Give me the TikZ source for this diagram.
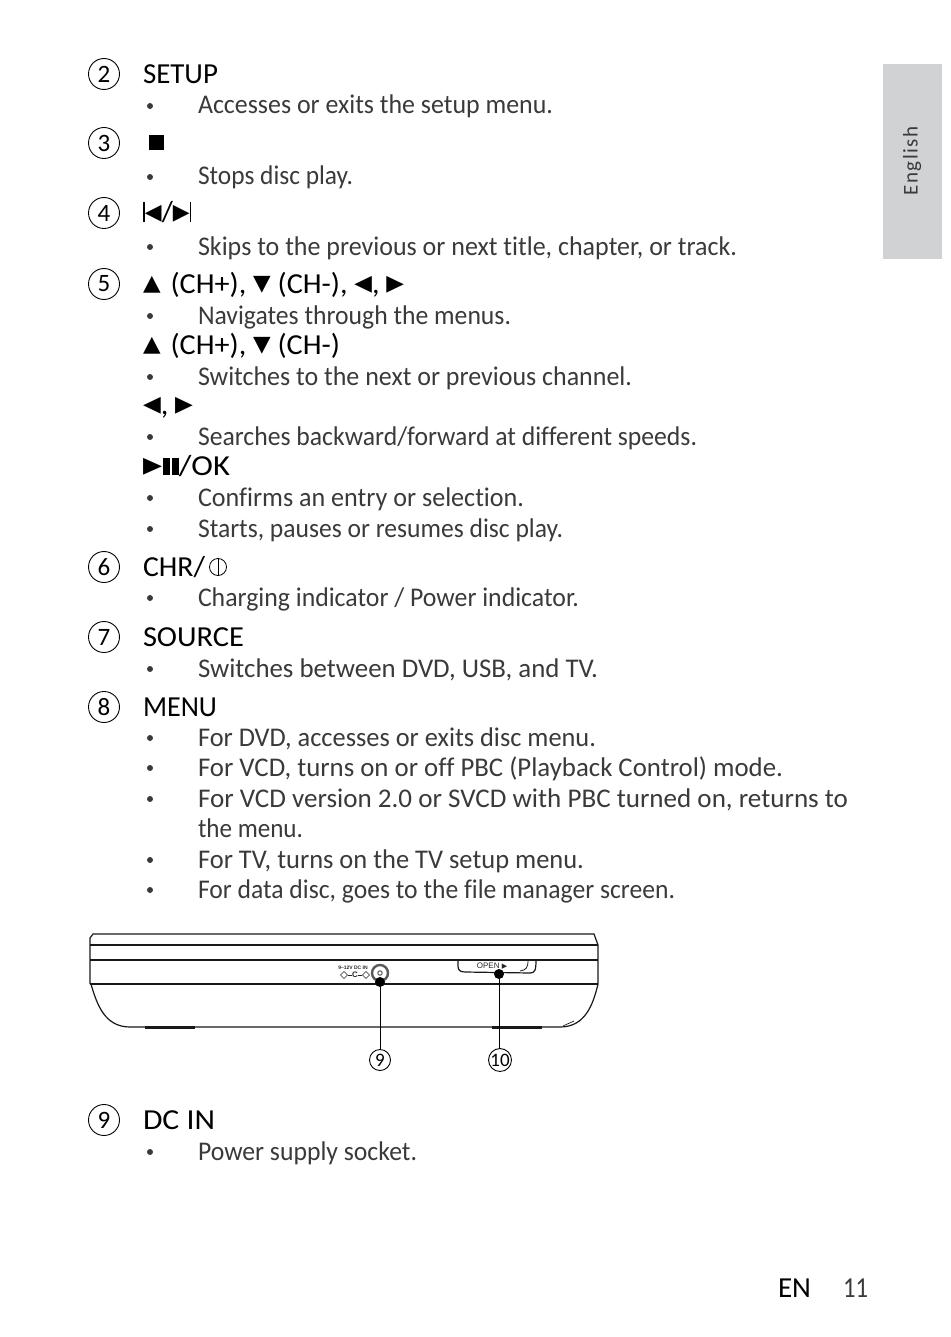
\documentclass[tikz,border=0pt]{standalone}
\usepackage{graphicx}
\usepackage{fontspec}
\setmainfont{Carlito}[Ligatures=NoCommon]
\newfontfamily\symfont{DejaVu Sans}
\newfontfamily\smallfont{Liberation Sans}
\usetikzlibrary{calc,shapes.geometric}
\definecolor{tabgray}{HTML}{D0D2D3}
\definecolor{bodygray}{HTML}{3A3A3A}
\newcommand{\sym}[2][22]{\raisebox{2.5pt}{\symfont\fontsize{#1}{#1}\selectfont #2}}
\newcommand{\fit}[2]{\resizebox{#1pt}{\height}{#2}}
\tikzset{
  base/.style={inner sep=0pt, outer sep=0pt, anchor=base west},
  head/.style={base, text=black, font=\fontsize{29}{29}\selectfont},
  body/.style={base, text=bodygray, font=\fontsize{27}{27}\selectfont},
  dot/.style={circle, fill=bodygray, inner sep=0pt, minimum size=6pt},
  num/.style={circle, draw=black, line width=0.9pt, inner sep=0pt, minimum size=31pt, font=\fontsize{25}{25}\selectfont},
  tag/.style={circle, draw=black, line width=0.9pt, inner sep=0pt, minimum size=21pt, font=\fontsize{19}{19}\selectfont},
  case/.style={line width=1.2pt, black!90},
  pin/.style={circle, fill=black, inner sep=0pt, minimum size=10pt},
}
\begin{document}
\begin{tikzpicture}[x=1pt, y=-1pt]
  \useasboundingbox (0,0) rectangle (950,1337);

  %%%%% TAB %%%%%
  \fill[tabgray] (883,64) rectangle (942,259);
  \node[inner sep=0pt, rotate=90, text=bodygray, font=\fontsize{21}{21}\selectfont] (lang) at (912,161) {E\hspace{1.5pt}n\hspace{1.5pt}g\hspace{1.5pt}l\hspace{1.5pt}i\hspace{1.5pt}s\hspace{1.5pt}h};

  %%%%% NUMBERS %%%%%
  \foreach \n/\yy in {2/74, 3/143, 4/213, 5/284, 6/567, 7/637, 8/707, 9/1120}
    \node[num] (num\n) at (104,\yy) {\n};

  %%%%% HEADINGS %%%%%
  \node[head] (setup) at (143,84) {\fit{75}{SETUP}};
  \node[fill=black, inner sep=0pt, minimum size=15pt] (stop) at (156.5,143) {};
  \node[head] (skip) at (143,222) {\fit{48}{\rule{2pt}{20pt}\sym{◀}/\sym{▶}\rule{1.4pt}{20pt}}};
  \node[head] (nav) at (143,293) {\fit{261}{\sym{▲}\hspace{3pt} (CH+), \sym{▼} (CH-), \sym{◀}, \sym{▶}}};
  \node[head] (chan) at (143,354) {\fit{197}{\sym{▲}\hspace{3pt} (CH+), \sym{▼} (CH-)}};
  \node[head] (srch) at (143,414) {\fit{50}{\sym{◀}, \sym{▶}}};
  \node[head] (play) at (143,475) {\fit{87}{\sym{▶}\hspace{1pt}\rule{6pt}{17pt}\hspace{2pt}\rule{6pt}{17pt}/OK}};
  \node[head] (chr) at (143,576) {\fit{62}{CHR/}};
  \node[circle, draw=black, line width=0.8pt, inner sep=0pt, minimum size=17pt] (pwr) at (218,567) {};
  \draw[line width=0.8pt] (pwr.north) -- (pwr.south);
  \node[head] (source) at (143,646) {\fit{101}{SOURCE}};
  \node[head] (menu) at (143,716) {\fit{74}{MENU}};
  \node[head] (dcin) at (143,1129) {\fit{72}{DC IN}};

  %%%%% BULLETS %%%%%
  \foreach \yy/\ww/\txt in {
    114/355/{Accesses or exits the setup menu.},
    185/155/{Stops disc play.},
    255/539/{Skips to the previous or next title, chapter, or track.},
    324/313/{Navigates through the menus.},
    385/434/{Switches to the next or previous channel.},
    445/499/{Searches backward/forward at different speeds.},
    506/326/{Confirms an entry or selection.},
    537/365/{Starts, pauses or resumes disc play.},
    606/381/{Charging indicator / Power indicator.},
    677/400/{Switches between DVD, USB, and TV.},
    746/398/{For DVD, accesses or exits disc menu.},
    776/585/{For VCD, turns on or off PBC (Playback Control) mode.},
    807/650/{For VCD version 2.0 or SVCD with PBC turned on, returns to},
    868/386/{For TV, turns on the TV setup menu.},
    898/477/{For data disc, goes to the file manager screen.},
    1160/219/{Power supply socket.}}{
    \node[dot] (bul\yy) at (150,\yy-8) {};
    \node[body] (txt\yy) at (198,\yy) {\fit{\ww}{\txt}};
  }
  \node[body] (txt837) at (198,837) {\fit{105}{the menu.}};

  %%%%% DEVICE %%%%%
  \draw[case] (90,984) -- (90,938) -- (93,934) -- (594,934) -- (598,945) -- (598,984);
  \draw[case] (90,945) -- (598,945);
  \draw[line width=2pt, black!90] (90,960) -- (598,960);
  \draw[case] (90,984) -- (598,984);
  \draw[case] (91,984) .. controls (97,1005) and (105,1027) .. (130,1027) -- (560,1027)
    .. controls (585,1027) and (593,1005) .. (598,984);
  \draw[line width=0.7pt, black!90] (563,1026) -- (574,1021);
  \fill[black!90] (145,1026) rectangle (195,1029);
  \fill[black!90] (492,1026) rectangle (542,1029);
  \draw[case] (458,960) -- (458,966) .. controls (458,970) and (460,972) .. (465,972)
    -- (530,973) .. controls (535,973) and (536,970) .. (536,960);
  \draw[line width=0.8pt, black!90] (528,960) .. controls (528,968) and (526,970) .. (520,971);
  \node[inner sep=0pt, font=\smallfont\fontsize{8}{8}\selectfont, text=black!85] (open) at (492,966) {OPEN {\symfont\fontsize{7}{7}\selectfont ▶}};
  \node[inner sep=0pt, font=\smallfont\bfseries\fontsize{5}{5}\selectfont, text=black!85] (volt) at (353,968) {9–12V DC IN};
  \node[diamond, draw=black!85, line width=0.6pt, inner sep=1.8pt] (dcl) at (344,975) {};
  \node[diamond, draw=black!85, line width=0.6pt, inner sep=1.8pt] (dcr) at (366,975) {};
  \node[inner sep=0pt, font=\smallfont\bfseries\fontsize{8}{8}\selectfont, text=black!85] (dcc) at (355,975) {C};
  \draw[line width=0.6pt, black!85] (dcl) -- (dcc) -- (dcr);
  \draw[line width=2.4pt, black!65] (380,973) circle (8);
  \draw[line width=1pt, black!65] (380,973) circle (2.2);

  \node[pin] (pin9) at (380,982) {};
  \node[pin] (pin10) at (499,974) {};
  \node[tag] (tag9) at (380,1060) {9};
  \node[tag] (tag10) at (500,1060) {10};
  \draw[line width=0.9pt] (pin9) -- (tag9);
  \draw[line width=0.9pt] (pin10) -- (pin10 |- tag10.north);

  %%%%% FOOTER %%%%%
  \node[head] (en) at (778,1297) {\fit{33}{EN}};
  \node[head, text=bodygray] (page) at (843,1297) {\fit{25}{11}};
\end{tikzpicture}
\end{document}
